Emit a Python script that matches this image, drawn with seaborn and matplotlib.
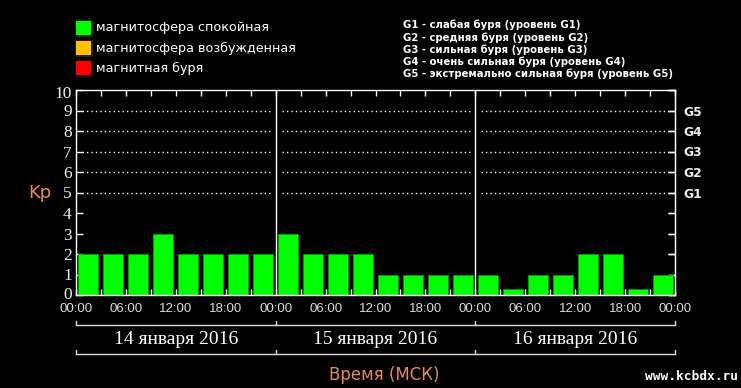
import numpy as np
import pandas as pd
import matplotlib
matplotlib.use("Agg")
import matplotlib.pyplot as plt
import matplotlib.transforms as mtransforms
from matplotlib.patches import Rectangle
import seaborn as sns

# =========================
# Данные: индекс Kp по 3-часовым интервалам
# =========================
kp_14 = [2, 2, 2, 3, 2, 2, 2, 2]
kp_15 = [3, 2, 2, 2, 1, 1, 1, 1]
kp_16 = [1, 0.3, 1, 1, 2, 2, 0.3, 1]
days = ["14 января 2016", "15 января 2016", "16 января 2016"]
hour_labels = ["00:00", "06:00", "12:00", "18:00"]
g_levels = [5, 6, 7, 8, 9]
g_labels = ["G1", "G2", "G3", "G4", "G5"]
legend_left = ["магнитосфера спокойная", "магнитосфера возбужденная", "магнитная буря"]
legend_colors = ["#00ff00", "#ffc000", "#ff0000"]
legend_right = [
    "G1 - слабая буря (уровень G1)",
    "G2 - средняя буря (уровень G2)",
    "G3 - сильная буря (уровень G3)",
    "G4 - очень сильная буря (уровень G4)",
    "G5 - экстремально сильная буря (уровень G5)",
]

W, H = 741, 388
ORANGE = "#e8895a"
GREEN = "#00ff00"


def fx(px):
    return px / W


def fy(py):
    return 1 - py / H


kp = kp_14 + kp_15 + kp_16
df = pd.DataFrame({"slot": np.arange(len(kp)), "kp": kp})

sns.set_style("dark", {"axes.facecolor": "black", "figure.facecolor": "black"})
plt.rcParams["font.family"] = ["DejaVu Sans"]

fig = plt.figure(figsize=(W / 100, H / 100), dpi=100)
ax = fig.add_axes([fx(76), fy(295), fx(675) - fx(76), fy(90) - fy(295)])
ax.set_facecolor("black")

sns.barplot(data=df, x="slot", y="kp", color=GREEN, saturation=1, width=0.8,
            edgecolor="#00a000", linewidth=0.6, ax=ax)

ax.set_xlim(-0.5, 23.5)
ax.set_ylim(0, 10)
ax.set_xlabel("")
ax.set_ylabel("")
ax.grid(False)
for s in ax.spines.values():
    s.set_color("white")
    s.set_linewidth(1)
    s.set_visible(True)

# ось X: метки каждые 6 часов, засечки каждые 3 часа
major = np.arange(-0.5, 24, 2)
ax.set_xticks(major)
ax.set_xticklabels(hour_labels * 3 + ["00:00"],
                   family=["Liberation Sans Narrow", "Liberation Sans"])
ax.set_xticks(np.arange(-0.5, 24, 1), minor=True)
ax.tick_params(axis="x", which="both", direction="in", top=True, bottom=True,
               length=4, width=1, color="white", labelsize=9.5,
               labelcolor="#dddddd", pad=6)

ax.set_yticks(range(11))
ax.set_yticklabels([str(i) for i in range(11)], family="Liberation Serif")
ax.tick_params(axis="y", direction="in", left=True, right=True, length=5,
               width=1, color="white", labelsize=12.5, labelcolor="#eeeeee", pad=3)
# "0" в оригинале чуть выше, "10" чуть ниже
ticks_y = ax.yaxis.get_major_ticks()
lbl0 = ticks_y[0].label1
lbl0.set_transform(lbl0.get_transform() +
                   mtransforms.ScaledTranslation(0, 2 / 100, fig.dpi_scale_trans))
lbl10 = ticks_y[10].label1
lbl10.set_transform(lbl10.get_transform() +
                    mtransforms.ScaledTranslation(0, -2 / 100, fig.dpi_scale_trans))

sec = ax.secondary_yaxis("right")
sec.set_yticks(range(11))
sec.set_yticklabels(["" if i not in g_levels else g_labels[g_levels.index(i)]
                     for i in range(11)], fontweight="bold")
sec.tick_params(direction="in", length=5, width=1, color="white",
                labelsize=8.8, labelcolor="#eeeeee", pad=6)
sec.spines["right"].set_color("white")

# пунктирная сетка по дням
for d in range(3):
    ax.hlines(g_levels, d * 8 - 0.5 + 0.24, d * 8 + 7.5 - 0.14,
              colors="white", linestyles=(0, (1, 2.2)), linewidth=1)
for x in [7.5, 15.5]:
    ax.axvline(x, color="white", linewidth=1)

# скобки с датами
tr = mtransforms.blended_transform_factory(ax.transData, ax.transAxes)
ah = 295 - 90


def bracket(py_line, py_tick):
    yl = -(py_line - 295) / ah
    yt = -(py_tick - 295) / ah
    ax.plot([-0.5, 23.5], [yl, yl], color="#dddddd", lw=1, transform=tr, clip_on=False)
    for x in [-0.5, 7.5, 15.5, 23.5]:
        ax.plot([x, x], [yl, yt], color="#dddddd", lw=1, transform=tr, clip_on=False)


bracket(325, 321)
bracket(354, 350)
for i, day in enumerate(days):
    ax.text(i * 8 + 3.5, -(340 - 295) / ah, day, transform=tr, ha="center",
            va="center", color="white", fontsize=14, family="Liberation Serif")

# подписи
fig.text(fx(40), fy(193), "Kp", color=ORANGE, fontsize=13, ha="center", va="center")
fig.text(fx(384), fy(375), "Время (МСК)", color=ORANGE, fontsize=12,
         ha="center", va="center")
fig.text(fx(738), fy(377), "www.kcbdx.ru", color="white", fontsize=9.3,
         family="DejaVu Sans Mono", fontweight="bold", ha="right", va="center")

# легенда слева
for i, (lab, col) in enumerate(zip(legend_left, legend_colors)):
    top = 21 + i * 20
    fig.add_artist(Rectangle((fx(74.5), fy(top + 15.5)), fx(18), 17 / H,
                             transform=fig.transFigure, color=col, lw=0, alpha=0.15))
    fig.add_artist(Rectangle((fx(76), fy(top + 14)), fx(15), 14 / H,
                             transform=fig.transFigure, color=col, lw=0))
    fig.text(fx(96), fy(top + 7), lab, color="white", fontsize=9.2,
             ha="left", va="center")

# легенда справа
for i, lab in enumerate(legend_right):
    fig.text(fx(403), fy(25 + i * 12.3), lab, color="white", fontsize=7.25,
             fontweight="bold", ha="left", va="center")

fig.savefig("out.png", dpi=100, facecolor="black")
